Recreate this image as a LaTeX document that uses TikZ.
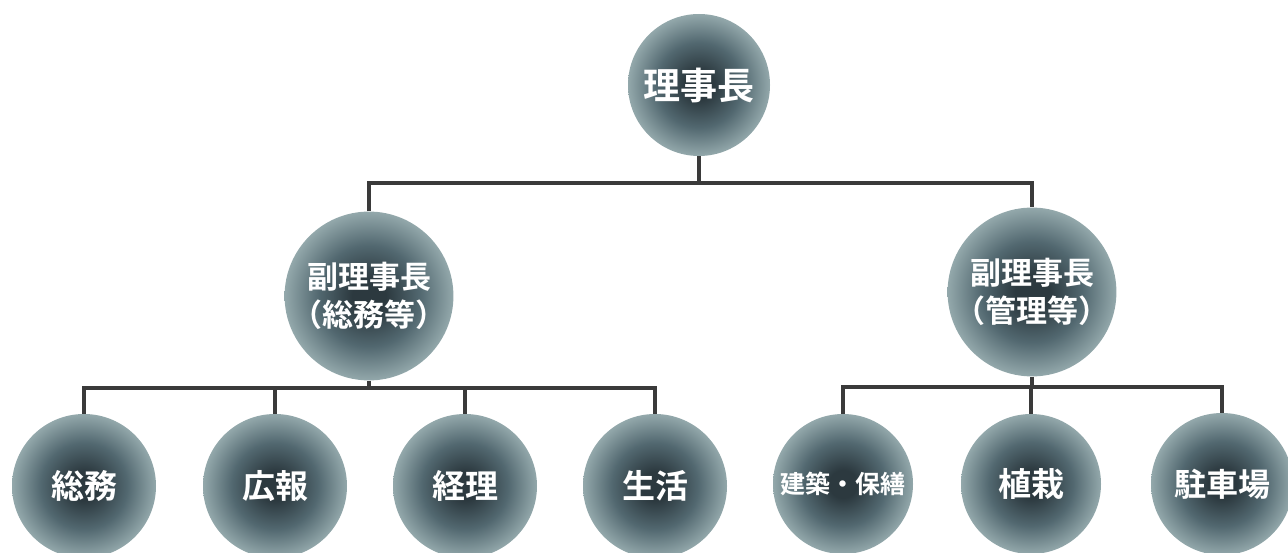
\documentclass[tikz,border=0pt]{standalone}
\usepackage{fontspec}
\newfontfamily\cjk{Noto Sans CJK JP}[BoldFont={Noto Sans CJK JP Bold}]
\definecolor{balldark}{HTML}{2C393F}
\definecolor{ballmid}{HTML}{526870}
\definecolor{balledge}{HTML}{93A8AB}
\definecolor{linecol}{HTML}{3A3A3A}
\pgfdeclareradialshading{ballshade}{\pgfpoint{0bp}{0bp}}{%
  color(0bp)=(balldark); color(5bp)=(balldark); color(15bp)=(ballmid);
  color(25bp)=(balledge); color(50bp)=(balledge)}
\tikzset{
  ball/.style={circle, inner sep=0pt, shading=ballshade, text=white,
    font=\cjk\bfseries\fontsize{31}{38}\selectfont, align=center},
  leaf/.style={ball, font=\cjk\bfseries\fontsize{33}{38}\selectfont},
  conn/.style={draw=linecol, line width=4pt}
}
\begin{document}
\begin{tikzpicture}[x=1pt,y=-1pt]
\useasboundingbox (0,0) rectangle (1288,553);
\coordinate (busT) at (699,183);
\coordinate (busL) at (369,388);
\coordinate (busR) at (1032,387);
\node[ball, minimum size=142pt, font=\cjk\bfseries\fontsize{37}{40}\selectfont] (top) at (699,85) {理事長};
\node[ball, minimum size=136pt] (vpL) at (369,296) {副理事長\\（総務等）};
\node[ball, minimum size=136pt] (vpR) at (1032,292) {副理事長\\（管理等）};
\node[leaf, minimum size=144pt] (s1) at (84,486) {総務};
\node[leaf, minimum size=144pt] (s2) at (275,486) {広報};
\node[leaf, minimum size=144pt] (s3) at (465,486) {経理};
\node[leaf, minimum size=144pt] (s4) at (655,486) {生活};
\node[ball, minimum size=140pt, font=\cjk\bfseries\fontsize{25}{30}\selectfont] (r1) at (843,484) {建築・保繕};
\node[leaf, minimum size=140pt] (r2) at (1031,484) {植栽};
\node[ball, minimum size=142pt, font=\cjk\bfseries\fontsize{32}{38}\selectfont] (r3) at (1222,484) {駐車場};
\draw[conn] (top.south) -- (busT);
\draw[conn] (vpL.north) |- (busT) -| (vpR.north);
\draw[conn] (vpL.south) -- (busL);
\draw[conn] (s1.north) |- (busL) -| (s4.north);
\draw[conn] (s2.north) -- (s2.north |- busL);
\draw[conn] (s3.north) -- (s3.north |- busL);
\draw[conn] (vpR.south) -- (busR);
\draw[conn] (r1.north) |- (busR) -| (r3.north);
\draw[conn] (r2.north) -- (r2.north |- busR);
\end{tikzpicture}
\end{document}
